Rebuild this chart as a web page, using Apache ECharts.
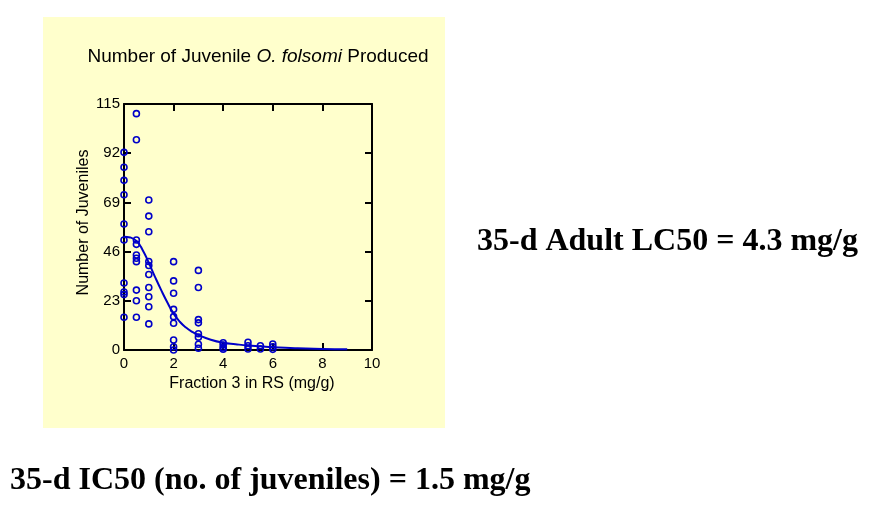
<!DOCTYPE html>
<html><head><meta charset="utf-8">
<script src="https://cdn.jsdelivr.net/npm/echarts@6/dist/echarts.min.js"></script>
<style>html,body{margin:0;padding:0;background:#fff}#c{width:880px;height:512px}</style>
</head><body><div id="c"></div>
<script>
// observed data: [concentration mg/g, number of juveniles]
const obsX = [0,0,0,0,0,0,0,0,0,0,
  0.5,0.5,0.5,0.5,0.5,0.5,0.5,0.5,0.5,0.5,
  1,1,1,1,1,1,1,1,1,1,
  2,2,2,2,2,2,2,2,2,
  3,3,3,3,3,3,3,3,
  4,4,4,4,
  5,5,5,
  5.5,5.5,
  6,6,6];
const obsY = [92.4,85.4,79.3,72.6,58.9,51.4,31.3,27.1,25.9,15.3,
  110.5,98.3,51.4,49.4,44.4,42.9,41.3,28,23,15.3,
  70.1,62.6,55.3,41.4,39.5,35.3,29.2,24.9,20.2,12.2,
  41.3,32.3,26.5,19,15.6,12.5,4.7,1.5,0,
  37.2,29.2,14.2,12.7,7.6,6,2.7,0.8,
  3.4,2.3,1.2,0.4,
  3.6,2,0.5,
  2,0.5,
  2.8,1.5,0.3];
// fitted curve
const fitX = [0,0.25,0.5,0.75,1,1.25,1.5,1.75,2,2.25,2.5,2.75,3,3.5,4,4.5,5,5.5,6,6.5,7,8,9];
const fitY = [53,52.6,51.0,46.8,40.7,34.2,28,22.2,17,13.2,10.5,8.5,7,4.8,3.4,2.7,2.1,1.7,1.3,1.0,0.8,0.5,0.4];
const xTicks = [0,2,4,6,8,10];
const yTicks = [0,23,46,69,92,115];

const chart = echarts.init(document.getElementById('c'));
const blue = '#0000c8';
const font = 'Liberation Sans, Arial, sans-serif';
function axisCommon(){ return {
  axisLine:{show:true,onZero:false,lineStyle:{color:'#000',width:2}},
  axisTick:{show:true,inside:true,length:7,lineStyle:{color:'#000',width:2}},
  splitLine:{show:false}
};}
chart.setOption({
  backgroundColor:'#ffffff',
  animation:false,
  graphic:[
    {type:'rect',shape:{x:43,y:17,width:402,height:411},style:{fill:'#ffffcc'},z:-10},
    {type:'text',left:477,top:226,style:{text:'35-d Adult LC50 = 4.3 mg/g',font:'bold 32px "Liberation Serif", "Times New Roman", serif',fill:'#000'}},
    {type:'text',left:10,top:465,style:{text:'35-d IC50 (no. of juveniles) = 1.5 mg/g',font:'bold 32px "Liberation Serif", "Times New Roman", serif',fill:'#000'}}
  ],
  title:{
    text:'{a|Number of Juvenile }{b|O. folsomi}{a| Produced}',
    left:253, textAlign:'center', top:42,
    textStyle:{fontWeight:'normal',rich:{
      a:{fontFamily:font,fontSize:19,fontWeight:'normal',color:'#000'},
      b:{fontFamily:font,fontSize:19,fontWeight:'normal',fontStyle:'italic',color:'#000'}
    }}
  },
  grid:{left:124,right:508,top:104,bottom:162},
  xAxis:[
    Object.assign({type:'value',min:0,max:10,interval:2,position:'bottom',
      name:'Fraction 3 in RS (mg/g)',nameLocation:'middle',nameGap:26,
      nameTextStyle:{fontFamily:font,fontSize:16,color:'#000',padding:[0,0,0,8]},
      axisLabel:{fontFamily:font,fontSize:15,color:'#000',margin:6,
        customValues:xTicks}},axisCommon()),
    Object.assign({type:'value',min:0,max:10,interval:2,position:'top',axisLabel:{show:false}},axisCommon())
  ],
  yAxis:[
    Object.assign({type:'value',min:0,max:115,interval:23,position:'left',
      name:'Number of Juveniles',nameLocation:'middle',nameGap:32,
      nameTextStyle:{fontFamily:font,fontSize:16,color:'#000',padding:[0,0,0,9]},
      axisLabel:{fontFamily:font,fontSize:15,color:'#000',margin:4,customValues:yTicks}},axisCommon()),
    Object.assign({type:'value',min:0,max:115,interval:23,position:'right',axisLabel:{show:false}},axisCommon())
  ],
  series:[
    {type:'line',data:fitX.map((x,i)=>[x,fitY[i]]),smooth:true,showSymbol:false,
      lineStyle:{color:blue,width:2},z:3},
    {type:'scatter',data:obsX.map((x,i)=>[x,obsY[i]]),symbol:'circle',symbolSize:6,
      itemStyle:{color:'rgba(255,255,204,0)',borderColor:blue,borderWidth:1.6,opacity:1},z:4}
  ]
});
</script></body></html>
